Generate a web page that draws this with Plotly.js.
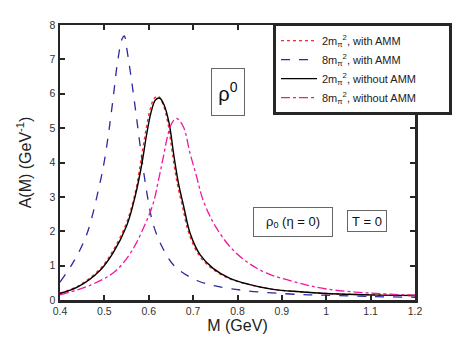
<!DOCTYPE html>
<html>
<head>
<meta charset="utf-8">
<script src="https://cdn.plot.ly/plotly-3.0.1.min.js"></script>
<style>
  html, body { margin: 0; padding: 0; background: #fff; }
  #chart { width: 458px; height: 343px; }
</style>
</head>
<body>
<div id="chart"></div>
<script>
// 2 m_pi^2, with AMM (red dotted)
var mRed = [0.40, 0.44, 0.49, 0.52, 0.55, 0.57, 0.582, 0.592, 0.602, 0.612, 0.621, 0.632, 0.643, 0.654, 0.664, 0.676, 0.69, 0.713, 0.742, 0.78, 0.82, 0.88, 0.94, 1.00, 1.10, 1.20];
var aRed = [0.20, 0.40, 0.90, 1.45, 2.25, 3.15, 4.02, 4.82, 5.48, 5.86, 5.93, 5.70, 5.16, 4.19, 3.40, 2.72, 1.96, 1.31, 0.92, 0.63, 0.47, 0.31, 0.24, 0.19, 0.15, 0.13];

// 8 m_pi^2, with AMM (blue dashed)
var mBlue = [0.40, 0.43, 0.46, 0.49, 0.50, 0.51, 0.52, 0.53, 0.54, 0.545, 0.55, 0.56, 0.57, 0.58, 0.59, 0.60, 0.61, 0.63, 0.66, 0.71, 0.75, 0.82, 0.94, 1.00, 1.10, 1.20];
var aBlue = [0.52, 1.10, 1.90, 3.40, 4.05, 4.90, 5.90, 6.95, 7.60, 7.68, 7.35, 6.50, 5.55, 4.55, 3.60, 2.80, 2.20, 1.55, 0.96, 0.56, 0.41, 0.27, 0.16, 0.14, 0.10, 0.08];

// 2 m_pi^2, without AMM (black solid)
var mBlack = [0.40, 0.44, 0.49, 0.52, 0.55, 0.57, 0.585, 0.595, 0.605, 0.615, 0.625, 0.635, 0.646, 0.657, 0.667, 0.679, 0.693, 0.716, 0.745, 0.783, 0.821, 0.88, 0.94, 1.00, 1.10, 1.20];
var aBlack = [0.19, 0.38, 0.86, 1.38, 2.15, 3.05, 4.00, 4.80, 5.45, 5.82, 5.87, 5.66, 5.14, 4.17, 3.39, 2.71, 1.95, 1.31, 0.92, 0.63, 0.47, 0.31, 0.24, 0.19, 0.15, 0.13];

// 8 m_pi^2, without AMM (magenta dash-dot)
var mPink = [0.40, 0.47, 0.523, 0.561, 0.591, 0.61, 0.622, 0.633, 0.644, 0.653, 0.663, 0.678, 0.693, 0.708, 0.72, 0.735, 0.75, 0.783, 0.821, 0.866, 0.937, 1.00, 1.10, 1.20];
var aPink = [0.15, 0.44, 0.82, 1.41, 2.18, 2.81, 3.49, 4.17, 4.85, 5.17, 5.28, 5.04, 4.27, 3.58, 3.00, 2.52, 2.15, 1.55, 1.11, 0.78, 0.50, 0.32, 0.20, 0.14];

// legend text; trailing no-break spaces leave room on the right like the original box
var pad = '\u00a0'.repeat(9);
var names = [
  '2m<sub>π</sub><sup>2</sup>, with AMM',
  '8m<sub>π</sub><sup>2</sup>, with AMM',
  '2m<sub>π</sub><sup>2</sup>, without AMM',
  '8m<sub>π</sub><sup>2</sup>, without AMM' + pad
];

var red = {
  x: mRed, y: aRed, type: 'scatter', mode: 'lines', name: names[0],
  line: {color: '#ff2a2a', width: 1.4, dash: 'dot', shape: 'spline'}
};
var blue = {
  x: mBlue, y: aBlue, type: 'scatter', mode: 'lines', name: names[1],
  line: {color: '#2a2a9c', width: 1.3, dash: 'dash', shape: 'spline'}
};
var black = {
  x: mBlack, y: aBlack, type: 'scatter', mode: 'lines', name: names[2],
  line: {color: '#000000', width: 1.4, shape: 'spline'}
};
var pink = {
  x: mPink, y: aPink, type: 'scatter', mode: 'lines', name: names[3],
  line: {color: '#f0189c', width: 1.3, dash: 'dashdot', shape: 'spline'}
};

var data = [red, blue, black, pink];

var axisFont = {family: 'Liberation Sans, Arial, sans-serif', size: 10.5, color: '#333'};

var layout = {
  width: 458, height: 343,
  margin: {l: 60, r: 43, t: 25, b: 43, autoexpand: false},
  paper_bgcolor: '#fff',
  plot_bgcolor: '#fff',
  font: {family: 'Liberation Sans, Arial, sans-serif', color: '#222'},
  showlegend: true,
  xaxis: {
    range: [0.4, 1.2], dtick: 0.1, tick0: 0.4,
    showgrid: false, zeroline: false,
    showline: true, linecolor: '#262626', linewidth: 2.5, mirror: 'ticks',
    ticks: 'inside', ticklen: 5, tickwidth: 2, tickcolor: '#262626',
    tickfont: axisFont,
    title: {text: 'M (GeV)', font: {size: 16, color: '#222'}, standoff: 4}
  },
  yaxis: {
    range: [0, 8], dtick: 1,
    showgrid: false, zeroline: false,
    showline: true, linecolor: '#262626', linewidth: 2.5, mirror: 'ticks',
    ticks: 'inside', ticklen: 5, tickwidth: 2, tickcolor: '#262626',
    tickfont: axisFont,
    title: {text: 'A(M) (GeV<sup>-1</sup>)', font: {size: 16, color: '#222'}, standoff: 14}
  },
  legend: {
    x: 0.6, xanchor: 'left', y: 1.007, yanchor: 'top',
    bgcolor: '#fff', bordercolor: '#262626', borderwidth: 3,
    itemwidth: 36,
    font: {size: 11, color: '#222'}
  },
  annotations: [
    {
      xref: 'paper', yref: 'paper', x: 0.473, y: 0.756,
      xanchor: 'center', yanchor: 'middle',
      text: 'ρ<sup>0</sup>', showarrow: false,
      font: {size: 20, color: '#111'},
      width: 28, height: 42,
      bordercolor: '#666', borderwidth: 1, borderpad: 2, bgcolor: '#fff'
    },
    {
      xref: 'paper', yref: 'paper', x: 0.656, y: 0.284,
      xanchor: 'center', yanchor: 'middle',
      text: 'ρ<sub>0</sub> (η = 0)', showarrow: false,
      font: {size: 13, color: '#111'},
      width: 72, height: 22,
      bordercolor: '#666', borderwidth: 1, borderpad: 3, bgcolor: '#fff'
    },
    {
      xref: 'paper', yref: 'paper', x: 0.865, y: 0.287,
      xanchor: 'center', yanchor: 'middle',
      text: 'T = 0', showarrow: false,
      font: {size: 13, color: '#111'},
      width: 34, height: 16,
      bordercolor: '#666', borderwidth: 1, borderpad: 2, bgcolor: '#fff'
    }
  ]
};

Plotly.newPlot('chart', data, layout, {displayModeBar: false, staticPlot: true});
</script>
</body>
</html>
